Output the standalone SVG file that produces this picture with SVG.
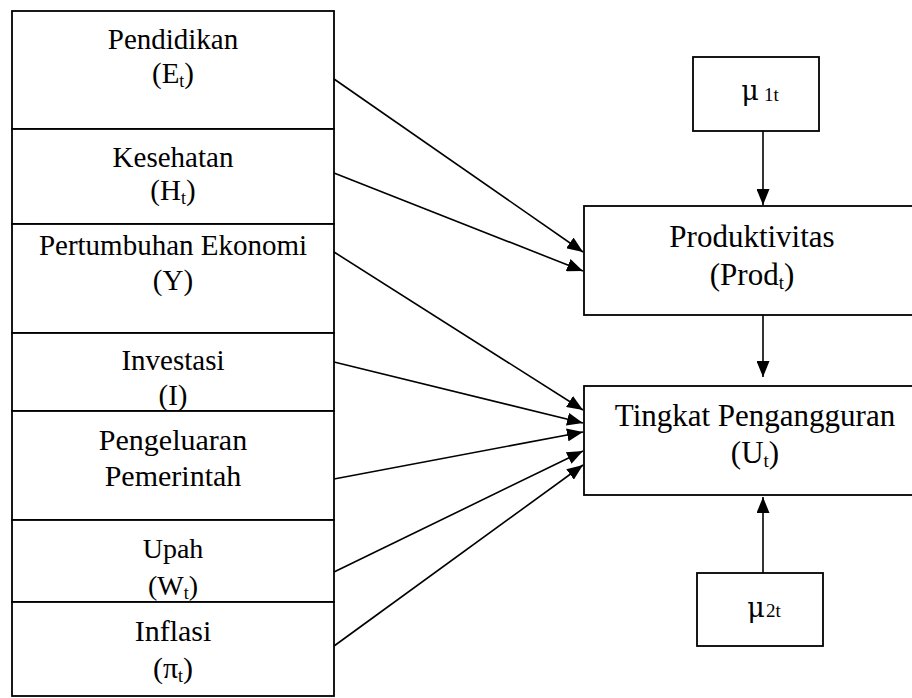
<svg xmlns="http://www.w3.org/2000/svg" width="912" height="698" viewBox="0 0 912 698">
<style>
.box{fill:#fff;stroke:#000;stroke-width:1.8}
.lbl{font-family:"Liberation Serif","Times New Roman",serif;font-size:29px;fill:#000;text-anchor:middle}
.big{font-size:31px}
.sub{font-size:18px}
.mu{font-family:"DejaVu Serif","Liberation Serif",serif;font-size:27px}
.con line{stroke:#000;stroke-width:1.6;marker-end:url(#ah)}
</style>
<defs>
<marker id="ah" markerUnits="userSpaceOnUse" markerWidth="16" markerHeight="13" refX="16" refY="6.5" orient="auto">
<path d="M0,0 L16,6.5 L0,13 z" fill="#000"/>
</marker>
</defs>
<rect width="912" height="698" fill="#fff"/>
<g id="pendidikan"><rect class="box" x="12" y="11" width="322" height="118"/>
<text class="lbl" x="173" y="49">Pendidikan</text>
<text class="lbl" x="173" y="83">(E<tspan class="sub" dy="4">t</tspan><tspan dy="-4">)</tspan></text></g>
<g id="kesehatan"><rect class="box" x="12" y="129" width="322" height="95"/>
<text class="lbl" x="173" y="167">Kesehatan</text>
<text class="lbl" x="173" y="200">(H<tspan class="sub" dy="4">t</tspan><tspan dy="-4">)</tspan></text></g>
<g id="pertumbuhan"><rect class="box" x="12" y="224" width="322" height="109"/>
<text class="lbl" x="173" y="255">Pertumbuhan Ekonomi</text>
<text class="lbl" x="173" y="290">(Y)</text></g>
<g id="investasi"><rect class="box" x="12" y="333" width="322" height="78"/>
<text class="lbl" x="173" y="370">Investasi</text>
<text class="lbl" x="173" y="405">(I)</text></g>
<g id="pengeluaran"><rect class="box" x="12" y="411" width="322" height="109"/>
<text class="lbl" x="173" y="450" style="font-size:30px">Pengeluaran</text>
<text class="lbl" x="173" y="486" style="font-size:30px">Pemerintah</text></g>
<g id="upah"><rect class="box" x="12" y="520" width="322" height="82"/>
<text class="lbl" x="173" y="558" style="font-size:28px">Upah</text>
<text class="lbl" x="173" y="595" style="font-size:28px">(W<tspan class="sub" dy="4">t</tspan><tspan dy="-4">)</tspan></text></g>
<g id="inflasi"><rect class="box" x="12" y="602" width="322" height="94"/>
<text class="lbl" x="173" y="641" style="font-size:30px">Inflasi</text>
<text class="lbl" x="173" y="678" style="font-size:30px">(π<tspan class="sub" dy="4">t</tspan><tspan dy="-4">)</tspan></text></g>
<g id="mu1"><rect class="box" x="693" y="57" width="126" height="74"/>
<text class="lbl" x="760" y="100"><tspan class="mu">μ</tspan><tspan class="sub" dx="5" dy="1" style="font-size:19px">1t</tspan></text></g>
<g id="produktivitas"><rect class="box" x="584" y="206" width="332" height="109"/>
<text class="lbl big" x="752" y="247">Produktivitas</text>
<text class="lbl big" x="752" y="285">(Prod<tspan class="sub" dy="4" style="font-size:19px">t</tspan><tspan dy="-4">)</tspan></text></g>
<g id="pengangguran"><rect class="box" x="584" y="386" width="332" height="109"/>
<text class="lbl big" x="755" y="426">Tingkat Pengangguran</text>
<text class="lbl big" x="755" y="463">(U<tspan class="sub" dy="4" style="font-size:19px">t</tspan><tspan dy="-4">)</tspan></text></g>
<g id="mu2"><rect class="box" x="697" y="573" width="126" height="73"/>
<text class="lbl" x="764" y="617"><tspan class="mu">μ</tspan><tspan class="sub" dx="1" style="font-size:19px">2t</tspan></text></g>
<g id="connectors" class="con">
<line x1="334" y1="79" x2="583" y2="252"/>
<line x1="334" y1="173" x2="583" y2="271"/>
<line x1="334" y1="252" x2="583" y2="410"/>
<line x1="334" y1="362" x2="583" y2="423"/>
<line x1="334" y1="479" x2="583" y2="432"/>
<line x1="334" y1="572" x2="583" y2="451"/>
<line x1="334" y1="646" x2="583" y2="465"/>
<line x1="763" y1="131" x2="763" y2="205"/>
<line x1="763" y1="315" x2="763" y2="377"/>
<line x1="763" y1="573" x2="763" y2="497"/>
</g>
</svg>
